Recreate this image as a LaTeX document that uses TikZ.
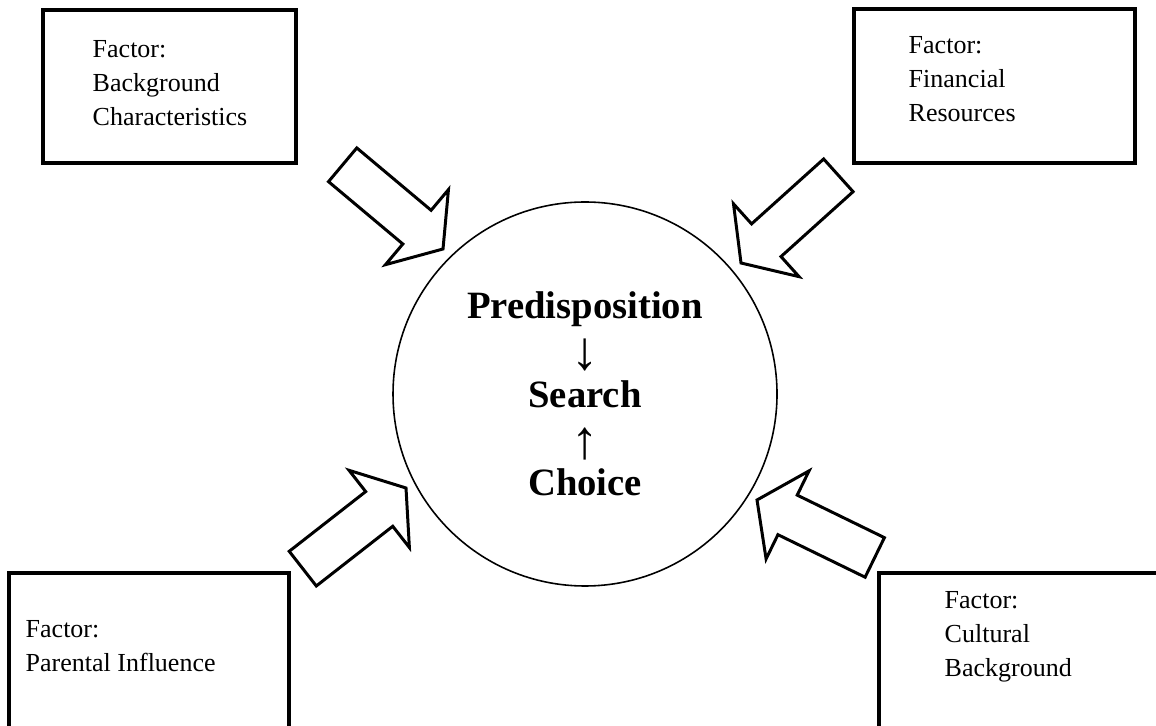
\documentclass[tikz,border=0pt]{standalone}
\usepackage{fontspec}
\setmainfont{Liberation Serif}
\usetikzlibrary{positioning}

\newcommand{\stagearrow}[1]{{\mdseries\fontsize{15.5}{12.6}\selectfont\raisebox{-2pt}[0pt][0pt]{#1}}}

\tikzset{
    factorbox/.style={draw, rectangle, line width=0.9pt, anchor=north west, inner sep=0pt, outer sep=0pt},
    factortext/.style={inner sep=0pt, align=left, font=\fontsize{7.4}{9.7}\selectfont},
    fatarrow/.pic={
        \draw[line width=0.85pt] (0,0) -- (-0.34,0.49) -- (-0.34,0.22) -- (-1.31,0.22)
            -- (-1.31,-0.22) -- (-0.34,-0.22) -- (-0.34,-0.49) -- cycle;
    }
}

\begin{document}
\begin{tikzpicture}
                \useasboundingbox (0,0) rectangle (11.56,7.25);
                \clip (0,0) rectangle (11.56,7.25);

                \node[factorbox, minimum width=2.53cm, minimum height=1.53cm] (bgbox) at (0.43,7.15) {};
                \node[factorbox, minimum width=2.81cm, minimum height=1.54cm] (finbox) at (8.54,7.16) {};
                \node[factorbox, minimum width=2.80cm, minimum height=2.00cm] (parbox) at (0.09,1.52) {};
                \node[factorbox, minimum width=3.20cm, minimum height=2.00cm] (culbox) at (8.79,1.52) {};

                \node[factortext, below right=0.30cm and 0.49cm of bgbox.north west] (bgtext) {Factor:\\Background\\Characteristics};
                \node[factortext, below right=0.27cm and 0.54cm of finbox.north west] (fintext) {Factor:\\Financial\\Resources};
                \node[factortext, below right=0.47cm and 0.16cm of parbox.north west] (partext) {Factor:\\Parental Influence};
                \node[factortext, below right=0.18cm and 0.65cm of culbox.north west] (cultext) {Factor:\\Cultural\\Background};

                \node[draw, circle, line width=0.45pt, minimum size=3.84cm, inner sep=0pt, align=center,
                      font=\fontsize{11}{12.6}\selectfont\bfseries] (stages) at (5.85,3.31)
                      {Predisposition\\\stagearrow{↓}\\Search\\\stagearrow{↑}\\Choice};

                % block arrows pointing at the circle
                \pic[rotate=-40] at (4.43,4.76) {fatarrow};
                \pic[rotate=-138] at (7.41,4.62) {fatarrow};
                \pic[rotate=38] at (4.06,2.37) {fatarrow};
                \pic[rotate=154] at (7.57,2.25) {fatarrow};
            \end{tikzpicture}
\end{document}
